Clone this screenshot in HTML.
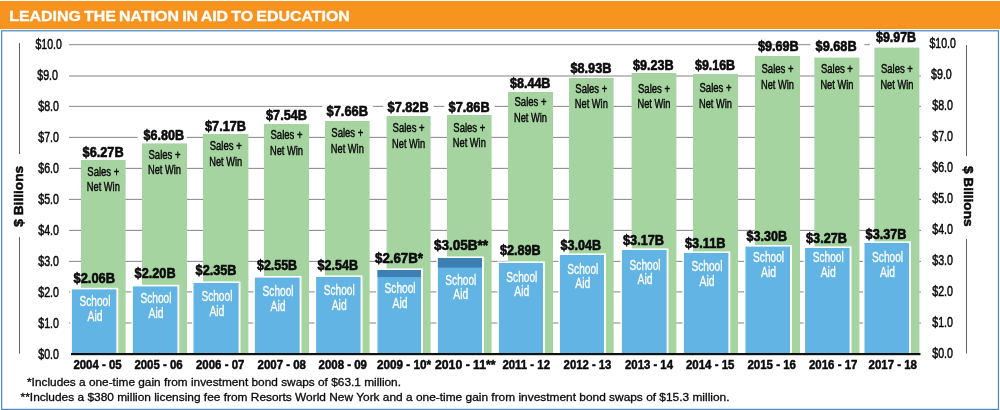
<!DOCTYPE html>
<html lang="en"><head><meta charset="utf-8"><title>Leading the Nation in Aid to Education</title>
<style>html,body{margin:0;padding:0;background:#fff}body{width:1000px;height:410px;overflow:hidden}svg{display:block;will-change:transform}text{white-space:pre}</style>
</head><body>
<svg width="1000" height="410" viewBox="0 0 1000 410" font-family="'Liberation Sans', sans-serif">
<rect x="0" y="0" width="1000" height="410" fill="#ffffff"/>
<rect x="0" y="1" width="1000" height="28.1" fill="#f7941f"/>
<rect x="1.65" y="30.8" width="996.8" height="378.6" fill="#ffffff" stroke="#4d8ccd" stroke-width="1.25"/>
<text x="9.2" y="21.3" textLength="340.6" lengthAdjust="spacingAndGlyphs" font-size="15.3" font-weight="bold" fill="#ffffff" stroke="#ffffff" stroke-width="0.35" stroke-linejoin="round" word-spacing="-1.2">LEADING THE NATION IN AID TO EDUCATION</text>
<rect x="69" y="322.45" width="852" height="1.1" fill="#909090"/>
<rect x="69" y="291.35" width="852" height="1.1" fill="#909090"/>
<rect x="69" y="260.85" width="852" height="1.1" fill="#909090"/>
<rect x="69" y="229.85" width="852" height="1.1" fill="#909090"/>
<rect x="69" y="198.85" width="852" height="1.1" fill="#909090"/>
<rect x="69" y="167.85" width="852" height="1.1" fill="#909090"/>
<rect x="69" y="136.85" width="852" height="1.1" fill="#909090"/>
<rect x="69" y="105.85" width="852" height="1.1" fill="#909090"/>
<rect x="69" y="75.35" width="852" height="1.3" fill="#a0a0a0"/>
<rect x="69" y="43.95" width="852" height="1.3" fill="#a0a0a0"/>
<rect x="19.0" y="43" width="1" height="111" fill="#606060"/>
<rect x="19.0" y="237" width="1" height="116.5" fill="#606060"/>
<rect x="966.0" y="45" width="1" height="111" fill="#606060"/>
<rect x="966.0" y="239" width="1" height="114.5" fill="#606060"/>
<text x="38.2" y="358.7" textLength="20.8" lengthAdjust="spacingAndGlyphs" font-size="13.9" font-weight="normal" fill="#0a0a0a" stroke="#0a0a0a" stroke-width="0.5" stroke-linejoin="round">$0.0</text>
<text x="932.2" y="357.9" textLength="20.8" lengthAdjust="spacingAndGlyphs" font-size="13.9" font-weight="normal" fill="#0a0a0a" stroke="#0a0a0a" stroke-width="0.5" stroke-linejoin="round">$0.0</text>
<text x="38.2" y="327.7" textLength="20.8" lengthAdjust="spacingAndGlyphs" font-size="13.9" font-weight="normal" fill="#0a0a0a" stroke="#0a0a0a" stroke-width="0.5" stroke-linejoin="round">$1.0</text>
<text x="932.2" y="326.9" textLength="20.8" lengthAdjust="spacingAndGlyphs" font-size="13.9" font-weight="normal" fill="#0a0a0a" stroke="#0a0a0a" stroke-width="0.5" stroke-linejoin="round">$1.0</text>
<text x="38.2" y="296.7" textLength="20.8" lengthAdjust="spacingAndGlyphs" font-size="13.9" font-weight="normal" fill="#0a0a0a" stroke="#0a0a0a" stroke-width="0.5" stroke-linejoin="round">$2.0</text>
<text x="932.2" y="295.9" textLength="20.8" lengthAdjust="spacingAndGlyphs" font-size="13.9" font-weight="normal" fill="#0a0a0a" stroke="#0a0a0a" stroke-width="0.5" stroke-linejoin="round">$2.0</text>
<text x="38.2" y="265.7" textLength="20.8" lengthAdjust="spacingAndGlyphs" font-size="13.9" font-weight="normal" fill="#0a0a0a" stroke="#0a0a0a" stroke-width="0.5" stroke-linejoin="round">$3.0</text>
<text x="932.2" y="264.9" textLength="20.8" lengthAdjust="spacingAndGlyphs" font-size="13.9" font-weight="normal" fill="#0a0a0a" stroke="#0a0a0a" stroke-width="0.5" stroke-linejoin="round">$3.0</text>
<text x="38.2" y="234.7" textLength="20.8" lengthAdjust="spacingAndGlyphs" font-size="13.9" font-weight="normal" fill="#0a0a0a" stroke="#0a0a0a" stroke-width="0.5" stroke-linejoin="round">$4.0</text>
<text x="932.2" y="233.9" textLength="20.8" lengthAdjust="spacingAndGlyphs" font-size="13.9" font-weight="normal" fill="#0a0a0a" stroke="#0a0a0a" stroke-width="0.5" stroke-linejoin="round">$4.0</text>
<text x="38.2" y="203.7" textLength="20.8" lengthAdjust="spacingAndGlyphs" font-size="13.9" font-weight="normal" fill="#0a0a0a" stroke="#0a0a0a" stroke-width="0.5" stroke-linejoin="round">$5.0</text>
<text x="932.2" y="202.9" textLength="20.8" lengthAdjust="spacingAndGlyphs" font-size="13.9" font-weight="normal" fill="#0a0a0a" stroke="#0a0a0a" stroke-width="0.5" stroke-linejoin="round">$5.0</text>
<text x="38.2" y="172.7" textLength="20.8" lengthAdjust="spacingAndGlyphs" font-size="13.9" font-weight="normal" fill="#0a0a0a" stroke="#0a0a0a" stroke-width="0.5" stroke-linejoin="round">$6.0</text>
<text x="932.2" y="171.9" textLength="20.8" lengthAdjust="spacingAndGlyphs" font-size="13.9" font-weight="normal" fill="#0a0a0a" stroke="#0a0a0a" stroke-width="0.5" stroke-linejoin="round">$6.0</text>
<text x="38.2" y="141.7" textLength="20.8" lengthAdjust="spacingAndGlyphs" font-size="13.9" font-weight="normal" fill="#0a0a0a" stroke="#0a0a0a" stroke-width="0.5" stroke-linejoin="round">$7.0</text>
<text x="932.2" y="140.9" textLength="20.8" lengthAdjust="spacingAndGlyphs" font-size="13.9" font-weight="normal" fill="#0a0a0a" stroke="#0a0a0a" stroke-width="0.5" stroke-linejoin="round">$7.0</text>
<text x="38.2" y="110.7" textLength="20.8" lengthAdjust="spacingAndGlyphs" font-size="13.9" font-weight="normal" fill="#0a0a0a" stroke="#0a0a0a" stroke-width="0.5" stroke-linejoin="round">$8.0</text>
<text x="932.2" y="109.9" textLength="20.8" lengthAdjust="spacingAndGlyphs" font-size="13.9" font-weight="normal" fill="#0a0a0a" stroke="#0a0a0a" stroke-width="0.5" stroke-linejoin="round">$8.0</text>
<text x="37.2" y="79.7" textLength="20.8" lengthAdjust="spacingAndGlyphs" font-size="13.9" font-weight="normal" fill="#0a0a0a" stroke="#0a0a0a" stroke-width="0.5" stroke-linejoin="round">$9.0</text>
<text x="931.0" y="78.9" textLength="20.8" lengthAdjust="spacingAndGlyphs" font-size="13.9" font-weight="normal" fill="#0a0a0a" stroke="#0a0a0a" stroke-width="0.5" stroke-linejoin="round">$9.0</text>
<text x="35.4" y="48.7" textLength="26.4" lengthAdjust="spacingAndGlyphs" font-size="13.9" font-weight="normal" fill="#0a0a0a" stroke="#0a0a0a" stroke-width="0.5" stroke-linejoin="round">$10.0</text>
<text x="929.4" y="47.9" textLength="26.4" lengthAdjust="spacingAndGlyphs" font-size="13.9" font-weight="normal" fill="#0a0a0a" stroke="#0a0a0a" stroke-width="0.5" stroke-linejoin="round">$10.0</text>
<g transform="translate(23.4,226.7) rotate(-90)">
<text x="0.0" y="0.0" textLength="60.8" lengthAdjust="spacingAndGlyphs" font-size="13.4" font-weight="bold" fill="#0a0a0a" stroke="#0a0a0a" stroke-width="0.5" stroke-linejoin="round">$ Billions</text>
</g>
<g transform="translate(964.0,166.0) rotate(90)">
<text x="0.0" y="0.0" textLength="60.6" lengthAdjust="spacingAndGlyphs" font-size="13.4" font-weight="bold" fill="#0a0a0a" stroke="#0a0a0a" stroke-width="0.5" stroke-linejoin="round">$ Billions</text>
</g>
<rect x="81" y="160" width="44.6" height="193.5" fill="#a5d4a0"/>
<rect x="142" y="143.4" width="45.0" height="210.1" fill="#a5d4a0"/>
<rect x="203" y="134" width="45.4" height="219.5" fill="#a5d4a0"/>
<rect x="264" y="124" width="45.0" height="229.5" fill="#a5d4a0"/>
<rect x="325" y="121" width="44.6" height="232.5" fill="#a5d4a0"/>
<rect x="386.6" y="116" width="44.0" height="237.5" fill="#a5d4a0"/>
<rect x="447" y="115" width="44.6" height="238.5" fill="#a5d4a0"/>
<rect x="508" y="92" width="45.0" height="261.5" fill="#a5d4a0"/>
<rect x="569" y="78" width="44.6" height="275.5" fill="#a5d4a0"/>
<rect x="631.6" y="73" width="44.8" height="280.5" fill="#a5d4a0"/>
<rect x="693" y="74" width="45.0" height="279.5" fill="#a5d4a0"/>
<rect x="755" y="56" width="45.0" height="297.5" fill="#a5d4a0"/>
<rect x="814.4" y="57.6" width="45.0" height="295.9" fill="#a5d4a0"/>
<rect x="874.4" y="47.6" width="45.0" height="305.9" fill="#a5d4a0"/>
<rect x="78.3" y="147" width="50.3" height="9" fill="#fff"/>
<rect x="137.6" y="130.6" width="49.4" height="9" fill="#fff"/>
<rect x="200.7" y="121.6" width="50.3" height="9" fill="#fff"/>
<rect x="261.7" y="110.4" width="50.3" height="9" fill="#fff"/>
<rect x="322.3" y="106" width="50.7" height="9" fill="#fff"/>
<rect x="383.3" y="102.4" width="50.3" height="9" fill="#fff"/>
<rect x="444.3" y="102" width="50.3" height="9" fill="#fff"/>
<rect x="505.7" y="78" width="49.7" height="9" fill="#fff"/>
<rect x="566.1" y="63" width="50.3" height="9" fill="#fff"/>
<rect x="628.7" y="60" width="49.9" height="9" fill="#fff"/>
<rect x="690.7" y="60" width="49.3" height="9" fill="#fff"/>
<rect x="810.4" y="41" width="54.0" height="9" fill="#fff"/>
<rect x="870.0" y="32.4" width="52.0" height="13.5" fill="#fff"/>
<text x="82.6" y="156.6" textLength="41.0" lengthAdjust="spacingAndGlyphs" font-size="15" font-weight="bold" fill="#0a0a0a" stroke="#0a0a0a" stroke-width="0.65" stroke-linejoin="round">$6.27B</text>
<text x="143.6" y="140.2" textLength="40.4" lengthAdjust="spacingAndGlyphs" font-size="15" font-weight="bold" fill="#0a0a0a" stroke="#0a0a0a" stroke-width="0.65" stroke-linejoin="round">$6.80B</text>
<text x="205.0" y="131.2" textLength="41.0" lengthAdjust="spacingAndGlyphs" font-size="15" font-weight="bold" fill="#0a0a0a" stroke="#0a0a0a" stroke-width="0.65" stroke-linejoin="round">$7.17B</text>
<text x="266.0" y="120.0" textLength="41.0" lengthAdjust="spacingAndGlyphs" font-size="15" font-weight="bold" fill="#0a0a0a" stroke="#0a0a0a" stroke-width="0.65" stroke-linejoin="round">$7.54B</text>
<text x="326.6" y="115.6" textLength="41.4" lengthAdjust="spacingAndGlyphs" font-size="15" font-weight="bold" fill="#0a0a0a" stroke="#0a0a0a" stroke-width="0.65" stroke-linejoin="round">$7.66B</text>
<text x="387.6" y="112.0" textLength="41.0" lengthAdjust="spacingAndGlyphs" font-size="15" font-weight="bold" fill="#0a0a0a" stroke="#0a0a0a" stroke-width="0.65" stroke-linejoin="round">$7.82B</text>
<text x="448.6" y="111.6" textLength="41.0" lengthAdjust="spacingAndGlyphs" font-size="15" font-weight="bold" fill="#0a0a0a" stroke="#0a0a0a" stroke-width="0.65" stroke-linejoin="round">$7.86B</text>
<text x="510.0" y="87.6" textLength="40.4" lengthAdjust="spacingAndGlyphs" font-size="15" font-weight="bold" fill="#0a0a0a" stroke="#0a0a0a" stroke-width="0.65" stroke-linejoin="round">$8.44B</text>
<text x="570.4" y="72.6" textLength="41.0" lengthAdjust="spacingAndGlyphs" font-size="15" font-weight="bold" fill="#0a0a0a" stroke="#0a0a0a" stroke-width="0.65" stroke-linejoin="round">$8.93B</text>
<text x="633.0" y="69.6" textLength="40.6" lengthAdjust="spacingAndGlyphs" font-size="15" font-weight="bold" fill="#0a0a0a" stroke="#0a0a0a" stroke-width="0.65" stroke-linejoin="round">$9.23B</text>
<text x="695.0" y="69.6" textLength="40.0" lengthAdjust="spacingAndGlyphs" font-size="15" font-weight="bold" fill="#0a0a0a" stroke="#0a0a0a" stroke-width="0.65" stroke-linejoin="round">$9.16B</text>
<text x="758.0" y="50.6" textLength="40.6" lengthAdjust="spacingAndGlyphs" font-size="15" font-weight="bold" fill="#0a0a0a" stroke="#0a0a0a" stroke-width="0.65" stroke-linejoin="round">$9.69B</text>
<text x="815.6" y="50.6" textLength="41.0" lengthAdjust="spacingAndGlyphs" font-size="15" font-weight="bold" fill="#0a0a0a" stroke="#0a0a0a" stroke-width="0.65" stroke-linejoin="round">$9.68B</text>
<text x="876.0" y="42.0" textLength="40.0" lengthAdjust="spacingAndGlyphs" font-size="15" font-weight="bold" fill="#0a0a0a" stroke="#0a0a0a" stroke-width="0.65" stroke-linejoin="round">$9.97B</text>
<text x="87.3" y="176.0" textLength="32.0" lengthAdjust="spacingAndGlyphs" font-size="12.6" font-weight="normal" fill="#0a0a0a" stroke="#0a0a0a" stroke-width="0.45" stroke-linejoin="round">Sales +</text>
<text x="86.8" y="191.0" textLength="33.0" lengthAdjust="spacingAndGlyphs" font-size="12.6" font-weight="normal" fill="#0a0a0a" stroke="#0a0a0a" stroke-width="0.45" stroke-linejoin="round">Net Win</text>
<text x="148.5" y="159.0" textLength="32.0" lengthAdjust="spacingAndGlyphs" font-size="12.6" font-weight="normal" fill="#0a0a0a" stroke="#0a0a0a" stroke-width="0.45" stroke-linejoin="round">Sales +</text>
<text x="148.0" y="174.4" textLength="33.0" lengthAdjust="spacingAndGlyphs" font-size="12.6" font-weight="normal" fill="#0a0a0a" stroke="#0a0a0a" stroke-width="0.45" stroke-linejoin="round">Net Win</text>
<text x="209.7" y="150.3" textLength="32.0" lengthAdjust="spacingAndGlyphs" font-size="12.6" font-weight="normal" fill="#0a0a0a" stroke="#0a0a0a" stroke-width="0.45" stroke-linejoin="round">Sales +</text>
<text x="209.2" y="165.8" textLength="33.0" lengthAdjust="spacingAndGlyphs" font-size="12.6" font-weight="normal" fill="#0a0a0a" stroke="#0a0a0a" stroke-width="0.45" stroke-linejoin="round">Net Win</text>
<text x="270.5" y="139.2" textLength="32.0" lengthAdjust="spacingAndGlyphs" font-size="12.6" font-weight="normal" fill="#0a0a0a" stroke="#0a0a0a" stroke-width="0.45" stroke-linejoin="round">Sales +</text>
<text x="270.0" y="155.0" textLength="33.0" lengthAdjust="spacingAndGlyphs" font-size="12.6" font-weight="normal" fill="#0a0a0a" stroke="#0a0a0a" stroke-width="0.45" stroke-linejoin="round">Net Win</text>
<text x="331.3" y="136.5" textLength="32.0" lengthAdjust="spacingAndGlyphs" font-size="12.6" font-weight="normal" fill="#0a0a0a" stroke="#0a0a0a" stroke-width="0.45" stroke-linejoin="round">Sales +</text>
<text x="330.8" y="152.5" textLength="33.0" lengthAdjust="spacingAndGlyphs" font-size="12.6" font-weight="normal" fill="#0a0a0a" stroke="#0a0a0a" stroke-width="0.45" stroke-linejoin="round">Net Win</text>
<text x="392.6" y="132.4" textLength="32.0" lengthAdjust="spacingAndGlyphs" font-size="12.6" font-weight="normal" fill="#0a0a0a" stroke="#0a0a0a" stroke-width="0.45" stroke-linejoin="round">Sales +</text>
<text x="392.1" y="147.8" textLength="33.0" lengthAdjust="spacingAndGlyphs" font-size="12.6" font-weight="normal" fill="#0a0a0a" stroke="#0a0a0a" stroke-width="0.45" stroke-linejoin="round">Net Win</text>
<text x="453.3" y="131.6" textLength="32.0" lengthAdjust="spacingAndGlyphs" font-size="12.6" font-weight="normal" fill="#0a0a0a" stroke="#0a0a0a" stroke-width="0.45" stroke-linejoin="round">Sales +</text>
<text x="452.8" y="147.2" textLength="33.0" lengthAdjust="spacingAndGlyphs" font-size="12.6" font-weight="normal" fill="#0a0a0a" stroke="#0a0a0a" stroke-width="0.45" stroke-linejoin="round">Net Win</text>
<text x="514.5" y="106.4" textLength="32.0" lengthAdjust="spacingAndGlyphs" font-size="12.6" font-weight="normal" fill="#0a0a0a" stroke="#0a0a0a" stroke-width="0.45" stroke-linejoin="round">Sales +</text>
<text x="514.0" y="121.6" textLength="33.0" lengthAdjust="spacingAndGlyphs" font-size="12.6" font-weight="normal" fill="#0a0a0a" stroke="#0a0a0a" stroke-width="0.45" stroke-linejoin="round">Net Win</text>
<text x="575.3" y="93.0" textLength="32.0" lengthAdjust="spacingAndGlyphs" font-size="12.6" font-weight="normal" fill="#0a0a0a" stroke="#0a0a0a" stroke-width="0.45" stroke-linejoin="round">Sales +</text>
<text x="574.8" y="108.0" textLength="33.0" lengthAdjust="spacingAndGlyphs" font-size="12.6" font-weight="normal" fill="#0a0a0a" stroke="#0a0a0a" stroke-width="0.45" stroke-linejoin="round">Net Win</text>
<text x="638.0" y="93.0" textLength="32.0" lengthAdjust="spacingAndGlyphs" font-size="12.6" font-weight="normal" fill="#0a0a0a" stroke="#0a0a0a" stroke-width="0.45" stroke-linejoin="round">Sales +</text>
<text x="637.5" y="108.0" textLength="33.0" lengthAdjust="spacingAndGlyphs" font-size="12.6" font-weight="normal" fill="#0a0a0a" stroke="#0a0a0a" stroke-width="0.45" stroke-linejoin="round">Net Win</text>
<text x="699.5" y="91.6" textLength="32.0" lengthAdjust="spacingAndGlyphs" font-size="12.6" font-weight="normal" fill="#0a0a0a" stroke="#0a0a0a" stroke-width="0.45" stroke-linejoin="round">Sales +</text>
<text x="699.0" y="107.6" textLength="33.0" lengthAdjust="spacingAndGlyphs" font-size="12.6" font-weight="normal" fill="#0a0a0a" stroke="#0a0a0a" stroke-width="0.45" stroke-linejoin="round">Net Win</text>
<text x="761.5" y="73.0" textLength="32.0" lengthAdjust="spacingAndGlyphs" font-size="12.6" font-weight="normal" fill="#0a0a0a" stroke="#0a0a0a" stroke-width="0.45" stroke-linejoin="round">Sales +</text>
<text x="761.0" y="89.0" textLength="33.0" lengthAdjust="spacingAndGlyphs" font-size="12.6" font-weight="normal" fill="#0a0a0a" stroke="#0a0a0a" stroke-width="0.45" stroke-linejoin="round">Net Win</text>
<text x="820.9" y="73.0" textLength="32.0" lengthAdjust="spacingAndGlyphs" font-size="12.6" font-weight="normal" fill="#0a0a0a" stroke="#0a0a0a" stroke-width="0.45" stroke-linejoin="round">Sales +</text>
<text x="820.4" y="89.0" textLength="33.0" lengthAdjust="spacingAndGlyphs" font-size="12.6" font-weight="normal" fill="#0a0a0a" stroke="#0a0a0a" stroke-width="0.45" stroke-linejoin="round">Net Win</text>
<text x="880.9" y="73.0" textLength="32.0" lengthAdjust="spacingAndGlyphs" font-size="12.6" font-weight="normal" fill="#0a0a0a" stroke="#0a0a0a" stroke-width="0.45" stroke-linejoin="round">Sales +</text>
<text x="880.4" y="89.0" textLength="33.0" lengthAdjust="spacingAndGlyphs" font-size="12.6" font-weight="normal" fill="#0a0a0a" stroke="#0a0a0a" stroke-width="0.45" stroke-linejoin="round">Net Win</text>
<rect x="70.4" y="287.8" width="47.9" height="65.7" fill="#fff"/>
<rect x="71.9" y="289.4" width="44.5" height="64.1" fill="#62b4e4"/>
<rect x="131.4" y="284.8" width="47.9" height="68.7" fill="#fff"/>
<rect x="132.9" y="286.4" width="44.5" height="67.1" fill="#62b4e4"/>
<rect x="192.0" y="281.4" width="48.5" height="72.1" fill="#fff"/>
<rect x="193.5" y="283" width="45.1" height="70.5" fill="#62b4e4"/>
<rect x="253.4" y="276.0" width="48.1" height="77.5" fill="#fff"/>
<rect x="254.9" y="277.6" width="44.7" height="75.9" fill="#62b4e4"/>
<rect x="314.6" y="275.4" width="47.9" height="78.1" fill="#fff"/>
<rect x="316.1" y="277" width="44.5" height="76.5" fill="#62b4e4"/>
<rect x="376.0" y="268.4" width="46.9" height="85.1" fill="#fff"/>
<rect x="377.5" y="270" width="43.5" height="83.5" fill="#62b4e4"/>
<rect x="377.5" y="270" width="43.5" height="7.0" fill="#3b7fb3"/>
<rect x="436.4" y="256.4" width="47.5" height="97.1" fill="#fff"/>
<rect x="437.9" y="258" width="44.1" height="95.5" fill="#62b4e4"/>
<rect x="437.9" y="258" width="44.1" height="9.6" fill="#3b7fb3"/>
<rect x="497.4" y="261.4" width="47.5" height="92.1" fill="#fff"/>
<rect x="498.9" y="263" width="44.1" height="90.5" fill="#62b4e4"/>
<rect x="558.4" y="253.4" width="47.5" height="100.1" fill="#fff"/>
<rect x="559.9" y="255" width="44.1" height="98.5" fill="#62b4e4"/>
<rect x="620.4" y="248.4" width="48.1" height="105.1" fill="#fff"/>
<rect x="621.9" y="250" width="44.7" height="103.5" fill="#62b4e4"/>
<rect x="682.4" y="251.4" width="47.9" height="102.1" fill="#fff"/>
<rect x="683.9" y="253" width="44.5" height="100.5" fill="#62b4e4"/>
<rect x="744.0" y="245.0" width="47.9" height="108.5" fill="#fff"/>
<rect x="745.5" y="246.6" width="44.5" height="106.9" fill="#62b4e4"/>
<rect x="803.6" y="246.4" width="47.9" height="107.1" fill="#fff"/>
<rect x="805.1" y="248" width="44.5" height="105.5" fill="#62b4e4"/>
<rect x="863.0" y="241.4" width="47.9" height="112.1" fill="#fff"/>
<rect x="864.5" y="243" width="44.5" height="110.5" fill="#62b4e4"/>
<text x="79.5" y="306.0" textLength="31.0" lengthAdjust="spacingAndGlyphs" font-size="13.8" font-weight="normal" fill="#fff" stroke="#fff" stroke-width="0.3" stroke-linejoin="round">School</text>
<text x="87.5" y="321.0" textLength="15.0" lengthAdjust="spacingAndGlyphs" font-size="13.8" font-weight="normal" fill="#fff" stroke="#fff" stroke-width="0.3" stroke-linejoin="round">Aid</text>
<text x="140.5" y="303.0" textLength="31.0" lengthAdjust="spacingAndGlyphs" font-size="13.8" font-weight="normal" fill="#fff" stroke="#fff" stroke-width="0.3" stroke-linejoin="round">School</text>
<text x="148.5" y="317.6" textLength="15.0" lengthAdjust="spacingAndGlyphs" font-size="13.8" font-weight="normal" fill="#fff" stroke="#fff" stroke-width="0.3" stroke-linejoin="round">Aid</text>
<text x="201.4" y="301.0" textLength="31.0" lengthAdjust="spacingAndGlyphs" font-size="13.8" font-weight="normal" fill="#fff" stroke="#fff" stroke-width="0.3" stroke-linejoin="round">School</text>
<text x="209.4" y="316.0" textLength="15.0" lengthAdjust="spacingAndGlyphs" font-size="13.8" font-weight="normal" fill="#fff" stroke="#fff" stroke-width="0.3" stroke-linejoin="round">Aid</text>
<text x="262.6" y="296.0" textLength="31.0" lengthAdjust="spacingAndGlyphs" font-size="13.8" font-weight="normal" fill="#fff" stroke="#fff" stroke-width="0.3" stroke-linejoin="round">School</text>
<text x="270.6" y="311.0" textLength="15.0" lengthAdjust="spacingAndGlyphs" font-size="13.8" font-weight="normal" fill="#fff" stroke="#fff" stroke-width="0.3" stroke-linejoin="round">Aid</text>
<text x="323.7" y="295.0" textLength="31.0" lengthAdjust="spacingAndGlyphs" font-size="13.8" font-weight="normal" fill="#fff" stroke="#fff" stroke-width="0.3" stroke-linejoin="round">School</text>
<text x="331.7" y="309.6" textLength="15.0" lengthAdjust="spacingAndGlyphs" font-size="13.8" font-weight="normal" fill="#fff" stroke="#fff" stroke-width="0.3" stroke-linejoin="round">Aid</text>
<text x="384.6" y="293.0" textLength="31.0" lengthAdjust="spacingAndGlyphs" font-size="13.8" font-weight="normal" fill="#fff" stroke="#fff" stroke-width="0.3" stroke-linejoin="round">School</text>
<text x="392.6" y="308.0" textLength="15.0" lengthAdjust="spacingAndGlyphs" font-size="13.8" font-weight="normal" fill="#fff" stroke="#fff" stroke-width="0.3" stroke-linejoin="round">Aid</text>
<text x="445.3" y="285.0" textLength="31.0" lengthAdjust="spacingAndGlyphs" font-size="13.8" font-weight="normal" fill="#fff" stroke="#fff" stroke-width="0.3" stroke-linejoin="round">School</text>
<text x="453.3" y="299.0" textLength="15.0" lengthAdjust="spacingAndGlyphs" font-size="13.8" font-weight="normal" fill="#fff" stroke="#fff" stroke-width="0.3" stroke-linejoin="round">Aid</text>
<text x="506.3" y="281.6" textLength="31.0" lengthAdjust="spacingAndGlyphs" font-size="13.8" font-weight="normal" fill="#fff" stroke="#fff" stroke-width="0.3" stroke-linejoin="round">School</text>
<text x="514.3" y="296.0" textLength="15.0" lengthAdjust="spacingAndGlyphs" font-size="13.8" font-weight="normal" fill="#fff" stroke="#fff" stroke-width="0.3" stroke-linejoin="round">Aid</text>
<text x="567.3" y="273.6" textLength="31.0" lengthAdjust="spacingAndGlyphs" font-size="13.8" font-weight="normal" fill="#fff" stroke="#fff" stroke-width="0.3" stroke-linejoin="round">School</text>
<text x="575.3" y="288.0" textLength="15.0" lengthAdjust="spacingAndGlyphs" font-size="13.8" font-weight="normal" fill="#fff" stroke="#fff" stroke-width="0.3" stroke-linejoin="round">Aid</text>
<text x="629.6" y="270.0" textLength="31.0" lengthAdjust="spacingAndGlyphs" font-size="13.8" font-weight="normal" fill="#fff" stroke="#fff" stroke-width="0.3" stroke-linejoin="round">School</text>
<text x="637.6" y="284.4" textLength="15.0" lengthAdjust="spacingAndGlyphs" font-size="13.8" font-weight="normal" fill="#fff" stroke="#fff" stroke-width="0.3" stroke-linejoin="round">Aid</text>
<text x="691.5" y="271.0" textLength="31.0" lengthAdjust="spacingAndGlyphs" font-size="13.8" font-weight="normal" fill="#fff" stroke="#fff" stroke-width="0.3" stroke-linejoin="round">School</text>
<text x="699.5" y="285.6" textLength="15.0" lengthAdjust="spacingAndGlyphs" font-size="13.8" font-weight="normal" fill="#fff" stroke="#fff" stroke-width="0.3" stroke-linejoin="round">Aid</text>
<text x="753.1" y="262.4" textLength="31.0" lengthAdjust="spacingAndGlyphs" font-size="13.8" font-weight="normal" fill="#fff" stroke="#fff" stroke-width="0.3" stroke-linejoin="round">School</text>
<text x="761.1" y="277.0" textLength="15.0" lengthAdjust="spacingAndGlyphs" font-size="13.8" font-weight="normal" fill="#fff" stroke="#fff" stroke-width="0.3" stroke-linejoin="round">Aid</text>
<text x="812.7" y="262.4" textLength="31.0" lengthAdjust="spacingAndGlyphs" font-size="13.8" font-weight="normal" fill="#fff" stroke="#fff" stroke-width="0.3" stroke-linejoin="round">School</text>
<text x="820.7" y="277.0" textLength="15.0" lengthAdjust="spacingAndGlyphs" font-size="13.8" font-weight="normal" fill="#fff" stroke="#fff" stroke-width="0.3" stroke-linejoin="round">Aid</text>
<text x="872.1" y="262.4" textLength="31.0" lengthAdjust="spacingAndGlyphs" font-size="13.8" font-weight="normal" fill="#fff" stroke="#fff" stroke-width="0.3" stroke-linejoin="round">School</text>
<text x="880.1" y="277.0" textLength="15.0" lengthAdjust="spacingAndGlyphs" font-size="13.8" font-weight="normal" fill="#fff" stroke="#fff" stroke-width="0.3" stroke-linejoin="round">Aid</text>
<text x="73.6" y="282.6" textLength="41.4" lengthAdjust="spacingAndGlyphs" font-size="15" font-weight="bold" fill="#0a0a0a" stroke="#0a0a0a" stroke-width="0.65" stroke-linejoin="round">$2.06B</text>
<text x="134.6" y="278.3" textLength="41.0" lengthAdjust="spacingAndGlyphs" font-size="15" font-weight="bold" fill="#0a0a0a" stroke="#0a0a0a" stroke-width="0.65" stroke-linejoin="round">$2.20B</text>
<text x="195.6" y="275.0" textLength="40.8" lengthAdjust="spacingAndGlyphs" font-size="15" font-weight="bold" fill="#0a0a0a" stroke="#0a0a0a" stroke-width="0.65" stroke-linejoin="round">$2.35B</text>
<text x="257.0" y="270.2" textLength="40.0" lengthAdjust="spacingAndGlyphs" font-size="15" font-weight="bold" fill="#0a0a0a" stroke="#0a0a0a" stroke-width="0.65" stroke-linejoin="round">$2.55B</text>
<text x="317.6" y="270.2" textLength="40.4" lengthAdjust="spacingAndGlyphs" font-size="15" font-weight="bold" fill="#0a0a0a" stroke="#0a0a0a" stroke-width="0.65" stroke-linejoin="round">$2.54B</text>
<text x="375.0" y="262.6" textLength="48.0" lengthAdjust="spacingAndGlyphs" font-size="15" font-weight="bold" fill="#0a0a0a" stroke="#0a0a0a" stroke-width="0.65" stroke-linejoin="round">$2.67B*</text>
<text x="434.0" y="250.2" textLength="54.0" lengthAdjust="spacingAndGlyphs" font-size="15" font-weight="bold" fill="#0a0a0a" stroke="#0a0a0a" stroke-width="0.65" stroke-linejoin="round">$3.05B**</text>
<text x="500.0" y="255.2" textLength="40.6" lengthAdjust="spacingAndGlyphs" font-size="15" font-weight="bold" fill="#0a0a0a" stroke="#0a0a0a" stroke-width="0.65" stroke-linejoin="round">$2.89B</text>
<text x="560.6" y="250.2" textLength="40.4" lengthAdjust="spacingAndGlyphs" font-size="15" font-weight="bold" fill="#0a0a0a" stroke="#0a0a0a" stroke-width="0.65" stroke-linejoin="round">$3.04B</text>
<text x="623.0" y="245.2" textLength="41.0" lengthAdjust="spacingAndGlyphs" font-size="15" font-weight="bold" fill="#0a0a0a" stroke="#0a0a0a" stroke-width="0.65" stroke-linejoin="round">$3.17B</text>
<text x="685.0" y="248.2" textLength="40.6" lengthAdjust="spacingAndGlyphs" font-size="15" font-weight="bold" fill="#0a0a0a" stroke="#0a0a0a" stroke-width="0.65" stroke-linejoin="round">$3.11B</text>
<text x="746.6" y="241.2" textLength="40.4" lengthAdjust="spacingAndGlyphs" font-size="15" font-weight="bold" fill="#0a0a0a" stroke="#0a0a0a" stroke-width="0.65" stroke-linejoin="round">$3.30B</text>
<text x="806.0" y="243.2" textLength="41.0" lengthAdjust="spacingAndGlyphs" font-size="15" font-weight="bold" fill="#0a0a0a" stroke="#0a0a0a" stroke-width="0.65" stroke-linejoin="round">$3.27B</text>
<text x="865.6" y="238.6" textLength="40.8" lengthAdjust="spacingAndGlyphs" font-size="15" font-weight="bold" fill="#0a0a0a" stroke="#0a0a0a" stroke-width="0.65" stroke-linejoin="round">$3.37B</text>
<rect x="71" y="353" width="849.5" height="2.2" fill="#111"/>
<text x="73.4" y="369.0" textLength="48.2" lengthAdjust="spacingAndGlyphs" font-size="13.2" font-weight="bold" fill="#0a0a0a" stroke="#0a0a0a" stroke-width="0.5" stroke-linejoin="round">2004 - 05</text>
<text x="134.4" y="369.0" textLength="48.2" lengthAdjust="spacingAndGlyphs" font-size="13.2" font-weight="bold" fill="#0a0a0a" stroke="#0a0a0a" stroke-width="0.5" stroke-linejoin="round">2005 - 06</text>
<text x="196.0" y="369.0" textLength="48.4" lengthAdjust="spacingAndGlyphs" font-size="13.2" font-weight="bold" fill="#0a0a0a" stroke="#0a0a0a" stroke-width="0.5" stroke-linejoin="round">2006 - 07</text>
<text x="257.6" y="369.0" textLength="48.4" lengthAdjust="spacingAndGlyphs" font-size="13.2" font-weight="bold" fill="#0a0a0a" stroke="#0a0a0a" stroke-width="0.5" stroke-linejoin="round">2007 - 08</text>
<text x="318.6" y="369.0" textLength="48.4" lengthAdjust="spacingAndGlyphs" font-size="13.2" font-weight="bold" fill="#0a0a0a" stroke="#0a0a0a" stroke-width="0.5" stroke-linejoin="round">2008 - 09</text>
<text x="377.0" y="369.0" textLength="54.0" lengthAdjust="spacingAndGlyphs" font-size="13.2" font-weight="bold" fill="#0a0a0a" stroke="#0a0a0a" stroke-width="0.5" stroke-linejoin="round">2009 - 10*</text>
<text x="435.0" y="369.0" textLength="60.6" lengthAdjust="spacingAndGlyphs" font-size="13.2" font-weight="bold" fill="#0a0a0a" stroke="#0a0a0a" stroke-width="0.5" stroke-linejoin="round">2010 - 11**</text>
<text x="502.4" y="369.0" textLength="47.6" lengthAdjust="spacingAndGlyphs" font-size="13.2" font-weight="bold" fill="#0a0a0a" stroke="#0a0a0a" stroke-width="0.5" stroke-linejoin="round">2011 - 12</text>
<text x="563.6" y="369.0" textLength="47.8" lengthAdjust="spacingAndGlyphs" font-size="13.2" font-weight="bold" fill="#0a0a0a" stroke="#0a0a0a" stroke-width="0.5" stroke-linejoin="round">2012 - 13</text>
<text x="625.0" y="369.0" textLength="48.0" lengthAdjust="spacingAndGlyphs" font-size="13.2" font-weight="bold" fill="#0a0a0a" stroke="#0a0a0a" stroke-width="0.5" stroke-linejoin="round">2013 - 14</text>
<text x="686.0" y="369.0" textLength="48.4" lengthAdjust="spacingAndGlyphs" font-size="13.2" font-weight="bold" fill="#0a0a0a" stroke="#0a0a0a" stroke-width="0.5" stroke-linejoin="round">2014 - 15</text>
<text x="747.4" y="369.0" textLength="48.6" lengthAdjust="spacingAndGlyphs" font-size="13.2" font-weight="bold" fill="#0a0a0a" stroke="#0a0a0a" stroke-width="0.5" stroke-linejoin="round">2015 - 16</text>
<text x="809.0" y="369.0" textLength="48.4" lengthAdjust="spacingAndGlyphs" font-size="13.2" font-weight="bold" fill="#0a0a0a" stroke="#0a0a0a" stroke-width="0.5" stroke-linejoin="round">2016 - 17</text>
<text x="868.6" y="369.0" textLength="48.4" lengthAdjust="spacingAndGlyphs" font-size="13.2" font-weight="bold" fill="#0a0a0a" stroke="#0a0a0a" stroke-width="0.5" stroke-linejoin="round">2017 - 18</text>
<text x="27.0" y="386.0" textLength="374.0" lengthAdjust="spacingAndGlyphs" font-size="11.2" font-weight="normal" fill="#0a0a0a" stroke="#0a0a0a" stroke-width="0.3" stroke-linejoin="round">*Includes a one-time gain from investment bond swaps of $63.1 million.</text>
<text x="20.6" y="401.0" textLength="708.9" lengthAdjust="spacingAndGlyphs" font-size="11.2" font-weight="normal" fill="#0a0a0a" stroke="#0a0a0a" stroke-width="0.3" stroke-linejoin="round">**Includes a $380 million licensing fee from Resorts World New York and a one-time gain from investment bond swaps of $15.3 million.</text>
</svg>
</body></html>
